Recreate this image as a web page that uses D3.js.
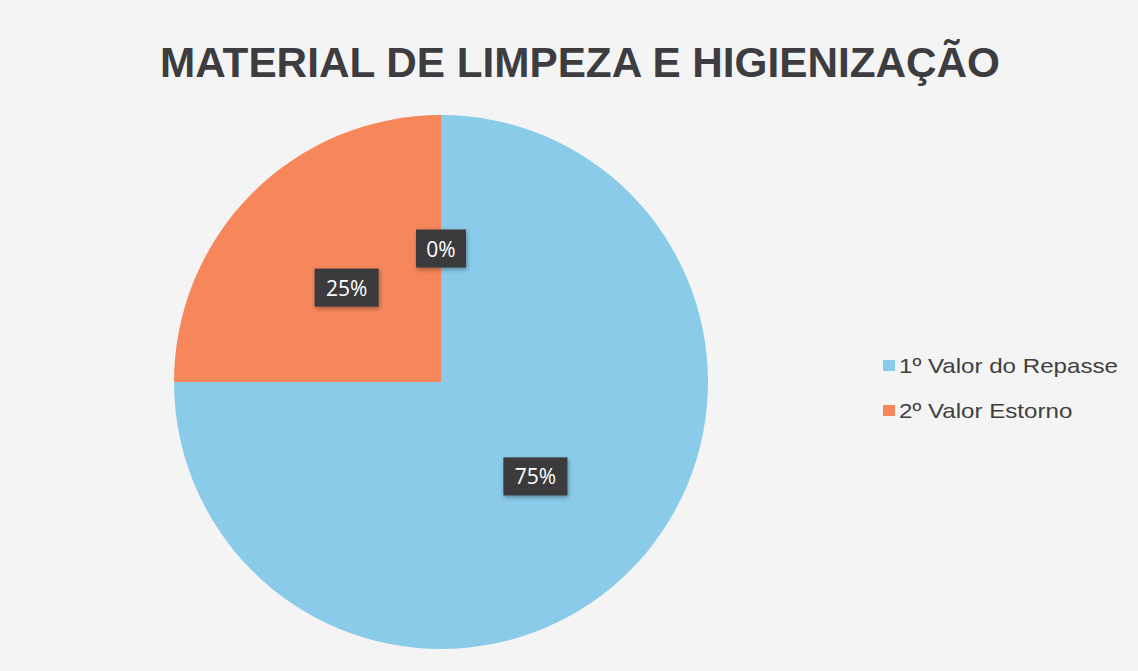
<!DOCTYPE html>
<html lang="pt">
<head>
<meta charset="UTF-8">
<title>Material de Limpeza e Higienização</title>
<script src="https://d3js.org/d3.v7.min.js"></script>
<style>
  html, body { margin: 0; padding: 0; background: #f4f4f4; }
</style>
</head>
<body>
<div id="chart"></div>
<script>
// data
const categories = ['1º Valor do Repasse', '2º Valor Estorno', ''];
const values = [75, 25, 0];
const percentLabels = ['75%', '25%', '0%'];
const legendItems = ['1º Valor do Repasse', '2º Valor Estorno'];
const colours = ['#8bcbea', '#f6875a', '#a5a5a5'];

const width = 1138, height = 671;
const cx = 441, cy = 382, radius = 267;

const svg = d3.select('#chart')
    .append('svg')
    .attr('width', width)
    .attr('height', height);

svg.append('rect')
    .attr('width', width)
    .attr('height', height)
    .attr('fill', '#f4f4f4');

// title
svg.append('text')
    .attr('x', 580)
    .attr('y', 77)
    .attr('text-anchor', 'middle')
    .attr('font-family', 'Liberation Sans, Arial, sans-serif')
    .attr('font-weight', 'bold')
    .attr('font-size', 42)
    .attr('fill', '#3d3c40')
    .attr('textLength', 840)
    .attr('lengthAdjust', 'spacingAndGlyphs')
    .text('MATERIAL DE LIMPEZA E HIGIENIZAÇÃO');

const pie = d3.pie().sort(null).value(d => d.value);
const arcs = pie(values.map((v, i) => ({ value: v, name: categories[i], i: i })));

const arc = d3.arc().innerRadius(0).outerRadius(radius);
const labelArc = d3.arc().innerRadius(radius * 0.5).outerRadius(radius * 0.5);

const g = svg.append('g').attr('transform', `translate(${cx},${cy})`);

g.selectAll('path')
    .data(arcs)
    .enter()
    .append('path')
    .attr('d', arc)
    .attr('fill', d => colours[d.data.i]);

// data labels in dark boxes
const lab = g.selectAll('g.lab')
    .data(arcs)
    .enter()
    .append('g')
    .attr('class', 'lab')
    .attr('transform', d => {
        const p = labelArc.centroid(d);
        return `translate(${p[0]},${p[1]})`;
    });

lab.append('rect')
    .attr('x', d => percentLabels[d.data.i].length > 2 ? -32 : -25)
    .attr('y', -19)
    .attr('width', d => percentLabels[d.data.i].length > 2 ? 64 : 50)
    .attr('height', 38)
    .attr('fill', '#3b3b3d')
    .style('filter', 'drop-shadow(1px 2px 2px rgba(0,0,0,0.35))');

lab.append('text')
    .attr('text-anchor', 'middle')
    .attr('y', 8)
    .attr('font-family', 'Open Sans, sans-serif')
    .attr('font-size', 21)
    .attr('fill', '#ffffff')
    .text(d => percentLabels[d.data.i]);

// legend
const legend = svg.append('g').attr('transform', 'translate(883,373)');
const row = legend.selectAll('g')
    .data(legendItems)
    .enter()
    .append('g')
    .attr('transform', (d, i) => `translate(0,${i * 45})`);

row.append('rect')
    .attr('x', 0)
    .attr('y', -13)
    .attr('width', 12)
    .attr('height', 11)
    .attr('fill', (d, i) => colours[i]);

const legText = row.append('text')
    .attr('x', 16)
    .attr('y', 0)
    .attr('font-family', 'Liberation Sans, Arial, sans-serif')
    .attr('font-size', 21)
    .attr('fill', '#404040')
    .text(d => d);

// the scan is a little wider than the font, stretch to match
const k = 219 / legText.node().getComputedTextLength();
legText.each(function() {
    d3.select(this)
        .attr('textLength', this.getComputedTextLength() * k)
        .attr('lengthAdjust', 'spacingAndGlyphs');
});
</script>
</body>
</html>
